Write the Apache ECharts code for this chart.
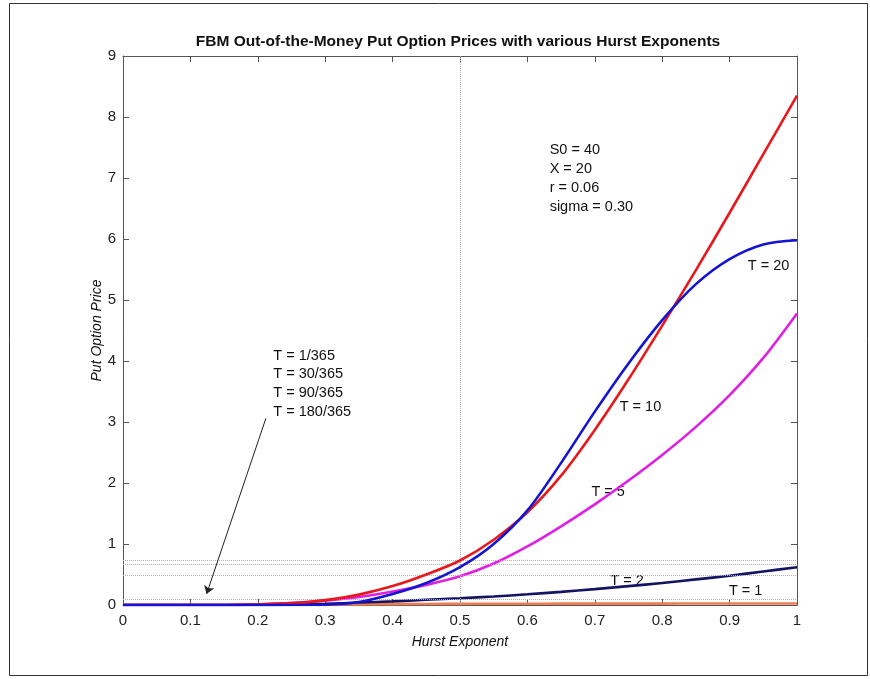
<!DOCTYPE html>
<html>
<head>
<meta charset="utf-8">
<script src="https://cdn.jsdelivr.net/npm/echarts@6/dist/echarts.min.js"></script>
<style>html,body{margin:0;padding:0;background:#fff;}#c{width:870px;height:679px;}</style>
</head>
<body>
<div id="c"></div>
<script>
var hurst = [0,0.05,0.1,0.15,0.2,0.25,0.3,0.35,0.4,0.45,0.5,0.55,0.6,0.65,0.7,0.75,0.8,0.85,0.9,0.95,1.0];
var priceT1  = [0,0,0,0,0,0.002,0.005,0.01,0.014,0.017,0.019,0.02,0.021,0.022,0.022,0.023,0.023,0.024,0.024,0.025,0.025];
var priceT2  = [0,0,0,0,0,0.005,0.02,0.04,0.06,0.085,0.11,0.14,0.175,0.215,0.26,0.31,0.36,0.42,0.48,0.55,0.62];
var priceT5  = [0,0,0,0,0.01,0.03,0.07,0.13,0.22,0.33,0.47,0.68,0.96,1.29,1.65,2.04,2.46,2.92,3.44,4.05,4.78];
var priceT10 = [0,0,0,0,0.01,0.03,0.08,0.17,0.31,0.5,0.73,1.07,1.52,2.12,2.87,3.70,4.58,5.49,6.43,7.39,8.35];
var priceT20 = [0,0,0,0,0,0,0.005,0.05,0.18,0.36,0.62,1.0,1.55,2.33,3.17,3.96,4.67,5.26,5.67,5.91,5.98];
var refLevels = [0.74,0.66,0.49,0.09];
var titleText = 'FBM Out-of-the-Money Put Option Prices with various Hurst Exponents';
var curveLabels = [
  {text:'T = 20', at:[0.927,5.56]},
  {text:'T = 10', at:[0.737,3.24]},
  {text:'T = 5',  at:[0.695,1.85]},
  {text:'T = 2',  at:[0.723,0.39]},
  {text:'T = 1',  at:[0.899,0.23]}
];
var paramLines = ['S0 = 40','X = 20','r = 0.06','sigma = 0.30'];
var paramAt = [0.633,7.46];
var shortLines = ['T = 1/365','T = 30/365','T = 90/365','T = 180/365'];
var shortAt = [0.223,4.09];
var arrowFrom = [0.212,3.06];
var arrowTo = [0.124,0.18];

function pairs(ys){ return hurst.map(function(x,i){return [x, ys[i]];}); }

var FONT = '"Liberation Sans", Arial, sans-serif';
var chart = echarts.init(document.getElementById('c'), null, {renderer:'canvas'});

function curve(name, data, color, z){
  return {name:name, type:'line', data:pairs(data), smooth:0.3, symbol:'none', z:z,
    lineStyle:{color:color, width:2.6}, emphasis:{disabled:true}, silent:true};
}

var axisCommon = {
  type:'value', min:0, max:1, interval:0.1,
  axisLine:{show:true, onZero:false, lineStyle:{color:'#555', width:1}},
  axisTick:{show:true, inside:true, length:6, lineStyle:{color:'#555'}},
  splitLine:{show:false}
};

var series = [
  curve('T=1', priceT1, '#f07c50', 2),
  curve('T=2', priceT2, '#141462', 3),
  curve('T=5', priceT5, '#e020e0', 4),
  curve('T=10', priceT10, '#e8181c', 5),
  curve('T=20', priceT20, '#1414d2', 6)
];
series[0].markLine = {
  silent:true, symbol:'none', label:{show:false}, animation:false,
  lineStyle:{color:'#b0b0b0', type:'dotted', width:1},
  data: [{xAxis:0.5}].concat(refLevels.map(function(v){return {yAxis:v};}))
};
series[1].markLine = {
  silent:true, label:{show:false}, animation:false, symbolSize:8,
  lineStyle:{color:'#222', type:'solid', width:1},
  data:[[{coord:arrowFrom, symbol:'none'},{coord:arrowTo, symbol:'arrow'}]]
};

chart.setOption({
  animation:false,
  backgroundColor:'#fff',
  title:{text:titleText, left:453, top:29, textAlign:'center',
    textStyle:{fontFamily:FONT, fontSize:15.5, fontWeight:'bold', color:'#111'}},
  grid:{left:123, right:73, top:56, bottom:74},
  xAxis:[
    Object.assign({}, axisCommon, {position:'bottom', name:'Hurst Exponent', nameLocation:'middle', nameGap:30,
      nameMoveOverlap:false,
      nameTextStyle:{fontFamily:FONT, fontSize:14, fontStyle:'italic', color:'#111'},
      axisLabel:{fontFamily:FONT, fontSize:15, color:'#222', margin:8,
        formatter:function(v){ return String(Math.round(v*10)/10); }}}),
    Object.assign({}, axisCommon, {position:'top', axisLabel:{show:false}})
  ],
  yAxis:[
    {type:'value', min:0, max:9, interval:1, position:'left',
      name:'Put Option Price', nameLocation:'middle', nameGap:19, nameMoveOverlap:false,
      nameTextStyle:{fontFamily:FONT, fontSize:14, fontStyle:'italic', color:'#111'},
      axisLine:{show:true, onZero:false, lineStyle:{color:'#555'}},
      axisTick:{show:true, inside:true, length:6, lineStyle:{color:'#555'}},
      axisLabel:{fontFamily:FONT, fontSize:15, color:'#222', margin:7},
      splitLine:{show:false}},
    {type:'value', min:0, max:9, interval:1, position:'right',
      axisLine:{show:true, onZero:false, lineStyle:{color:'#555'}},
      axisTick:{show:true, inside:true, length:6, lineStyle:{color:'#555'}},
      axisLabel:{show:false}, splitLine:{show:false}}
  ],
  series:series
});

var g = [{type:'rect', shape:{x:9.5, y:3.5, width:858, height:672}, style:{fill:null, stroke:'#333', lineWidth:1}, silent:true, z:-1}];
function txt(s, p){
  return {type:'text', x:p[0], y:p[1], silent:true,
    style:{text:s, font:'14.5px ' + FONT, fill:'#111', verticalAlign:'middle'}};
}
curveLabels.forEach(function(l){ g.push(txt(l.text, chart.convertToPixel({gridIndex:0}, l.at))); });
var p0 = chart.convertToPixel({gridIndex:0}, paramAt);
paramLines.forEach(function(s,i){ g.push(txt(s, [p0[0], p0[1] + i*19])); });
var s0 = chart.convertToPixel({gridIndex:0}, shortAt);
shortLines.forEach(function(s,i){ g.push(txt(s, [s0[0], s0[1] + i*18.7])); });
chart.setOption({graphic:g});
</script>
</body>
</html>
